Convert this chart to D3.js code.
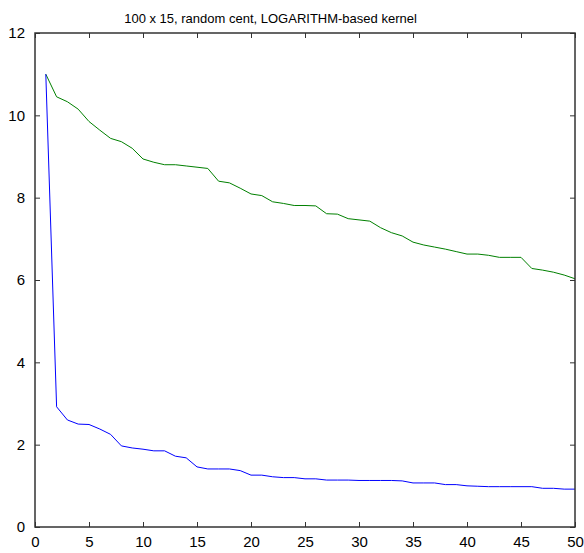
<!DOCTYPE html>
<html>
<head>
<meta charset="utf-8">
<script src="https://cdn.jsdelivr.net/npm/d3@7"></script>
<style>
  body { margin: 0; background: #fff; }
  svg { display: block; }
  text { font-family: "Liberation Sans", Arial, sans-serif; fill: #000; }
</style>
</head>
<body>
<svg id="chart" width="584" height="553"></svg>
<script>
const titleText = "100 x 15, random cent, LOGARITHM-based kernel";
const xValues = d3.range(1, 51);
const blueSeries = [11.0, 2.92, 2.60, 2.50, 2.49, 2.38, 2.25, 1.97, 1.92, 1.89,
  1.85, 1.85, 1.72, 1.68, 1.46, 1.41, 1.41, 1.41, 1.37, 1.26,
  1.26, 1.22, 1.20, 1.20, 1.17, 1.17, 1.14, 1.14, 1.14, 1.13,
  1.13, 1.13, 1.13, 1.12, 1.07, 1.07, 1.07, 1.03, 1.03, 1.00,
  0.99, 0.98, 0.98, 0.98, 0.98, 0.98, 0.94, 0.94, 0.92, 0.92];
const greenSeries = [11.0, 10.45, 10.33, 10.15, 9.85, 9.64, 9.44, 9.36, 9.20, 8.94,
  8.86, 8.80, 8.80, 8.77, 8.74, 8.71, 8.40, 8.36, 8.23, 8.09,
  8.05, 7.90, 7.86, 7.81, 7.81, 7.80, 7.61, 7.60, 7.49, 7.46,
  7.43, 7.27, 7.15, 7.07, 6.92, 6.85, 6.80, 6.75, 6.69, 6.63,
  6.63, 6.60, 6.55, 6.55, 6.55, 6.28, 6.24, 6.19, 6.12, 6.03];
const xTicks = [0, 5, 10, 15, 20, 25, 30, 35, 40, 45, 50];
const yTicks = [0, 2, 4, 6, 8, 10, 12];

(function () {
const svg = d3.select("#chart");
const mLeft = 35, mRight = 575, mTop = 33, mBottom = 527;
const x = d3.scaleLinear().domain([0, 50]).range([mLeft, mRight]);
const y = d3.scaleLinear().domain([0, 12]).range([mBottom, mTop]);
const axisColor = "#333";
const tickLen = 5;

// Lines
const line = d3.line().x((d, i) => x(xValues[i])).y(d => y(d));
svg.append("path").datum(greenSeries).attr("d", line)
  .attr("fill", "none").attr("stroke", "#008000").attr("stroke-width", 1);
svg.append("path").datum(blueSeries).attr("d", line)
  .attr("fill", "none").attr("stroke", "#0000ff").attr("stroke-width", 1);

// Axes (ticks inward)
function styleAxis(g) {
  g.select(".domain").remove();
  g.selectAll(".tick line").attr("stroke", axisColor);
  g.selectAll(".tick text").style("font-size", "15px")
    .style("font-family", '"Liberation Sans", Arial, sans-serif').attr("fill", "#000");
}
svg.append("g").attr("transform", `translate(0,${mBottom})`)
  .call(d3.axisBottom(x).tickValues(xTicks).tickFormat(d3.format("d"))
    .tickSizeInner(-tickLen).tickSizeOuter(0).tickPadding(9))
  .call(styleAxis);
svg.append("g").attr("transform", `translate(0,${mTop})`)
  .call(d3.axisTop(x).tickValues(xTicks).tickFormat("")
    .tickSizeInner(-tickLen).tickSizeOuter(0))
  .call(styleAxis);
svg.append("g").attr("transform", `translate(${mLeft},0)`)
  .call(d3.axisLeft(y).tickValues(yTicks).tickFormat(d3.format("d"))
    .tickSizeInner(-tickLen).tickSizeOuter(0).tickPadding(10))
  .call(styleAxis);
svg.append("g").attr("transform", `translate(${mRight},0)`)
  .call(d3.axisRight(y).tickValues(yTicks).tickFormat("")
    .tickSizeInner(-tickLen).tickSizeOuter(0))
  .call(styleAxis);

// Box
svg.append("rect").attr("x", mLeft).attr("y", mTop)
  .attr("width", mRight - mLeft).attr("height", mBottom - mTop)
  .attr("fill", "none").attr("stroke", axisColor).attr("stroke-width", 1.5);

// Title
svg.append("text").attr("x", 270.5).attr("y", 22.5)
  .attr("text-anchor", "middle").style("font-size", "13px").text(titleText);
})();
</script>
</body>
</html>
